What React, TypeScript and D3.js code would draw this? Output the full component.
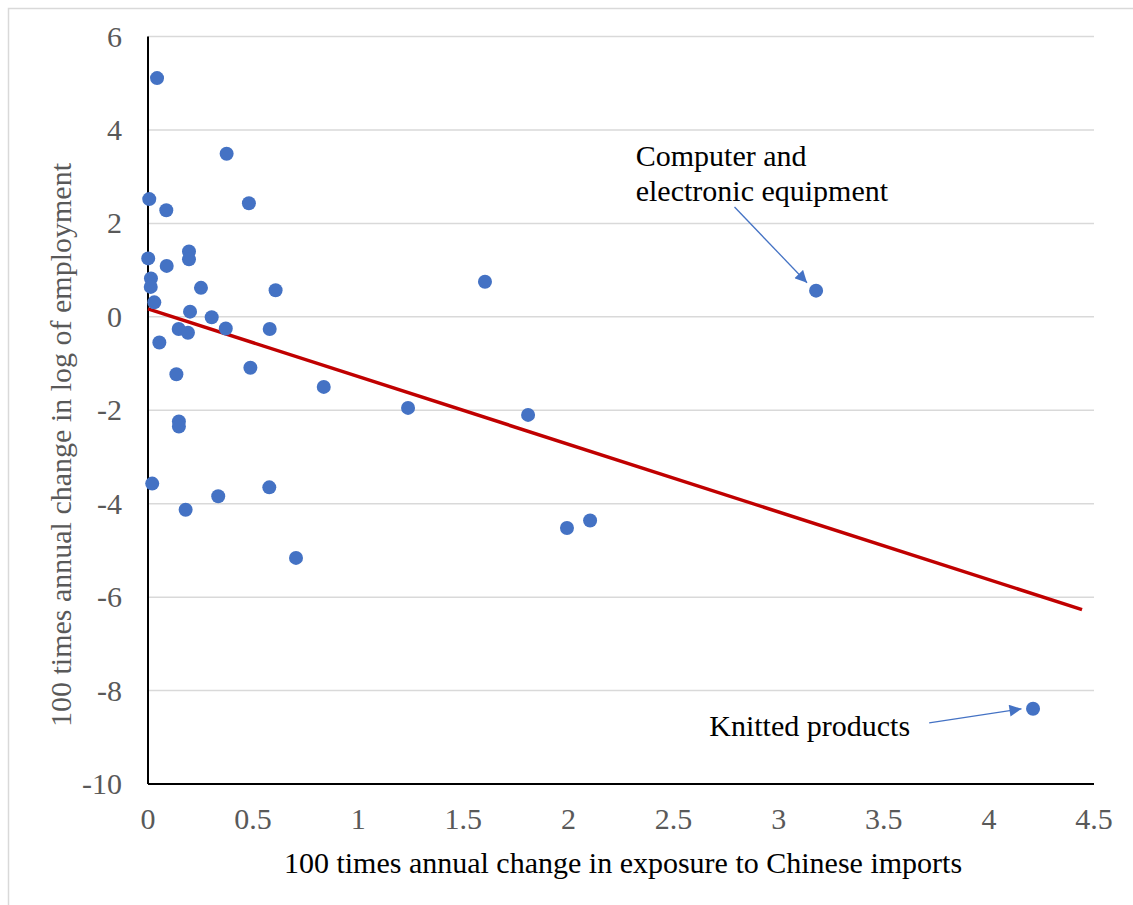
import React, { useEffect, useRef } from 'react';
import * as d3 from 'd3';

// exposure change (x) and employment change (y)
const exposure = [
  0.043, 0.374, 0.006, 0.087, 0.48, 0.195, 0.195, 0.001, 0.089, 0.014,
  0.013, 0.252, 0.607, 0.03, 0.2, 0.303, 0.146, 0.19, 0.37, 0.579,
  0.054, 0.135, 0.487, 0.836, 1.237, 1.808, 1.603, 3.178, 0.147, 0.147,
  0.02, 0.334, 0.577, 0.179, 0.704, 1.993, 2.103, 4.21,
];
const employment = [
  5.11, 3.49, 2.52, 2.28, 2.43, 1.4, 1.23, 1.25, 1.09, 0.82,
  0.64, 0.62, 0.57, 0.31, 0.11, -0.01, -0.26, -0.34, -0.25, -0.26,
  -0.55, -1.23, -1.09, -1.5, -1.95, -2.1, 0.75, 0.56, -2.24, -2.35,
  -3.57, -3.84, -3.65, -4.13, -5.16, -4.52, -4.36, -8.39,
];

const xTicks = [0, 0.5, 1, 1.5, 2, 2.5, 3, 3.5, 4, 4.5];
const yTicks = [6, 4, 2, 0, -2, -4, -6, -8, -10];

// linear trend line
const trendIntercept = 0.17;
const trendSlope = -1.449;
const trendEnd = 4.443;

const annotations = [
  { lines: ['Computer and', 'electronic equipment'], from: [2.79, 2.35], to: [3.135, 0.73] },
  { lines: ['Knitted products'], from: [3.716, -8.69], to: [4.155, -8.39] },
];
const annotationText = [
  { x: 2.32, y: 3.22 },
  { x: 2.67, y: -8.97 },
];

const font = '"Liberation Serif", "Times New Roman", serif';
const fontSize = 30;

const App = () => {
  const ref = useRef<SVGSVGElement>(null);

  useEffect(() => {
    const svg = d3.select(ref.current);
    svg.selectAll('*').remove();

    const x = d3.scaleLinear().domain([0, 4.5]).range([148, 1094]);
    const y = d3.scaleLinear().domain([-10, 6]).range([784, 36.5]);

    // outer frame
    svg.append('rect')
      .attr('x', 8.5).attr('y', 8.5)
      .attr('width', 1140).attr('height', 910)
      .attr('fill', 'white')
      .attr('stroke', '#d9d9d9')
      .attr('stroke-width', 1.5);

    const defs = svg.append('defs');
    defs.append('marker')
      .attr('id', 'arrow')
      .attr('viewBox', '0 0 10 10')
      .attr('refX', 10).attr('refY', 5)
      .attr('markerWidth', 13).attr('markerHeight', 12)
      .attr('markerUnits', 'userSpaceOnUse')
      .attr('orient', 'auto')
      .append('path')
      .attr('d', 'M0,0 L10,5 L0,10 Z')
      .attr('fill', '#4472c4');

    // gridlines
    svg.append('g')
      .selectAll('line')
      .data(yTicks.filter(d => d !== -10))
      .join('line')
      .attr('x1', x(0)).attr('x2', x(4.5))
      .attr('y1', d => y(d)).attr('y2', d => y(d))
      .attr('stroke', '#d9d9d9')
      .attr('stroke-width', 1.5);

    // axes
    svg.append('line')
      .attr('x1', x(0)).attr('x2', x(0))
      .attr('y1', y(6)).attr('y2', y(-10))
      .attr('stroke', 'black').attr('stroke-width', 2);
    svg.append('line')
      .attr('x1', x(0)).attr('x2', x(4.5))
      .attr('y1', y(-10)).attr('y2', y(-10))
      .attr('stroke', 'black').attr('stroke-width', 2);

    // tick labels
    svg.append('g')
      .selectAll('text')
      .data(yTicks)
      .join('text')
      .attr('x', 122)
      .attr('y', d => y(d) + 10)
      .attr('text-anchor', 'end')
      .attr('font-family', font)
      .attr('font-size', fontSize)
      .attr('fill', '#595959')
      .text(d => d);

    svg.append('g')
      .selectAll('text')
      .data(xTicks)
      .join('text')
      .attr('x', d => x(d))
      .attr('y', 829)
      .attr('text-anchor', 'middle')
      .attr('font-family', font)
      .attr('font-size', fontSize)
      .attr('fill', '#595959')
      .text(d => d);

    // axis titles
    svg.append('text')
      .attr('x', 623).attr('y', 873)
      .attr('text-anchor', 'middle')
      .attr('font-family', font)
      .attr('font-size', fontSize)
      .attr('fill', 'black')
      .text('100 times annual change in exposure to Chinese imports');

    svg.append('text')
      .attr('transform', 'translate(71,445) rotate(-90)')
      .attr('text-anchor', 'middle')
      .attr('font-family', font)
      .attr('font-size', fontSize)
      .attr('fill', '#595959')
      .text('100 times annual change in log of employment');

    // trend line
    const line = d3.line<number>()
      .x(d => x(d))
      .y(d => y(trendIntercept + trendSlope * d));
    svg.append('path')
      .attr('d', line([0, trendEnd]))
      .attr('fill', 'none')
      .attr('stroke', '#c00000')
      .attr('stroke-width', 3.5);

    // points
    svg.append('g')
      .selectAll('circle')
      .data(exposure.map((d, i) => [d, employment[i]]))
      .join('circle')
      .attr('cx', d => x(d[0]))
      .attr('cy', d => y(d[1]))
      .attr('r', 7)
      .attr('fill', '#4472c4');

    // annotations
    annotations.forEach((a, i) => {
      svg.append('line')
        .attr('x1', x(a.from[0])).attr('y1', y(a.from[1]))
        .attr('x2', x(a.to[0])).attr('y2', y(a.to[1]))
        .attr('stroke', '#4472c4')
        .attr('stroke-width', 1.3)
        .attr('marker-end', 'url(#arrow)');
      const t = svg.append('text')
        .attr('font-family', font)
        .attr('font-size', fontSize)
        .attr('fill', 'black');
      a.lines.forEach((s, j) => {
        t.append('tspan')
          .attr('x', x(annotationText[i].x))
          .attr('y', y(annotationText[i].y) + j * 35)
          .text(s);
      });
    });
  }, []);

  return (
    <svg
      ref={ref}
      width={1133}
      height={905}
      style={{ position: 'absolute', left: 0, top: 0, display: 'block' }}
    />
  );
};

export default App;
